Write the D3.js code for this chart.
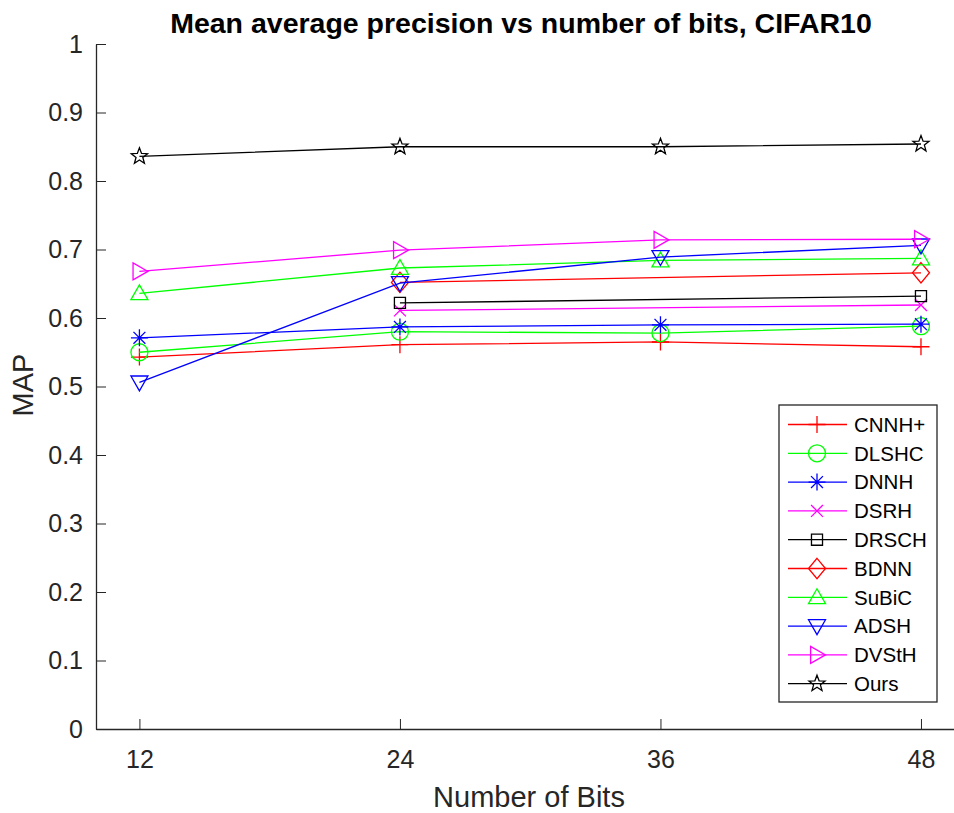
<!DOCTYPE html>
<meta charset="utf-8">
<style>
body { margin: 0; background: #fff; font-family: 'Liberation Sans', Arial, sans-serif; }
.axis path, .axis line { stroke: #262626; }
.axis text { fill: #262626; }
</style>
<body>
<script src="https://d3js.org/d3.v7.min.js"></script>
<script>
var width = 954, height = 813;

// data
var bits = [12, 24, 36, 48];
var yTicks = [0, 0.1, 0.2, 0.3, 0.4, 0.5, 0.6, 0.7, 0.8, 0.9, 1];
var names = ["CNNH+", "DLSHC", "DNNH", "DSRH", "DRSCH", "BDNN", "SuBiC", "ADSH", "DVStH", "Ours"];
var colors = ["#ff0000", "#00ff00", "#0000ff", "#ff00ff", "#000000", "#ff0000", "#00ff00", "#0000ff", "#ff00ff", "#000000"];
var markers = ["plus", "circle", "asterisk", "cross", "square", "diamond", "up", "down", "right", "star"];
var cnnh = [0.543, 0.561, 0.565, 0.558];
var dlshc = [0.550, 0.580, 0.578, 0.588];
var dnnh = [0.571, 0.587, 0.590, 0.591];
var dsrh = [null, 0.611, null, 0.619];
var drsch = [null, 0.622, null, 0.632];
var bdnn = [null, 0.652, null, 0.666];
var subic = [0.636, 0.673, 0.684, 0.687];
var adsh = [0.506, 0.651, 0.689, 0.706];
var dvsth = [0.668, 0.699, 0.714, 0.715];
var ours = [0.836, 0.850, 0.850, 0.854];
var series = [cnnh, dlshc, dnnh, dsrh, drsch, bdnn, subic, adsh, dvsth, ours];

var margin = {left: 96, top: 44, bottom: 84};
var x = d3.scaleLinear().domain([10, 50]).range([margin.left, margin.left + 40 * 21.71]);
var y = d3.scaleLinear().domain([0, 1]).range([height - margin.bottom, margin.top]);

var svg = d3.select("body").append("svg")
    .attr("width", width)
    .attr("height", height);

function markerPath(type, s) {
  var p = d3.path();
  var r = s / 2;
  if (type == "plus") {
    p.moveTo(-r, 0); p.lineTo(r, 0); p.moveTo(0, -r); p.lineTo(0, r);
  } else if (type == "circle") {
    p.moveTo(r, 0); p.arc(0, 0, r, 0, 2 * Math.PI);
  } else if (type == "asterisk") {
    p.moveTo(-r, 0); p.lineTo(r, 0); p.moveTo(0, -r); p.lineTo(0, r);
    var d = r * 0.7;
    p.moveTo(-d, -d); p.lineTo(d, d); p.moveTo(-d, d); p.lineTo(d, -d);
  } else if (type == "cross") {
    var c = r * 0.7;
    p.moveTo(-c, -c); p.lineTo(c, c); p.moveTo(-c, c); p.lineTo(c, -c);
  } else if (type == "square") {
    var q = r * 0.65;
    p.rect(-q, -q, 2 * q, 2 * q);
  } else if (type == "diamond") {
    var h = r * 1.2;
    p.moveTo(0, -h); p.lineTo(r, 0); p.lineTo(0, h); p.lineTo(-r, 0); p.closePath();
  } else if (type == "up") {
    p.moveTo(0, -r); p.lineTo(r, r * 0.75); p.lineTo(-r, r * 0.75); p.closePath();
  } else if (type == "down") {
    p.moveTo(0, r); p.lineTo(r, -r * 0.75); p.lineTo(-r, -r * 0.75); p.closePath();
  } else if (type == "right") {
    p.moveTo(r, 0); p.lineTo(-r * 0.75, r); p.lineTo(-r * 0.75, -r); p.closePath();
  } else if (type == "star") {
    var ro = r, ri = r * 0.42;
    for (var i = 0; i < 10; i++) {
      var a = -Math.PI / 2 + i * Math.PI / 5;
      var rr = i % 2 ? ri : ro;
      if (i == 0) p.moveTo(rr * Math.cos(a), rr * Math.sin(a));
      else p.lineTo(rr * Math.cos(a), rr * Math.sin(a));
    }
    p.closePath();
  }
  return p.toString();
}

// axes (MATLAB style, ticks pointing in, no box)
svg.append("g")
    .attr("class", "axis")
    .attr("transform", "translate(0," + y(0) + ")")
    .call(d3.axisBottom(x).tickValues(bits).tickSizeInner(-10).tickSizeOuter(0).tickPadding(21))
    .call(g => g.selectAll("text").attr("font-size", 25).attr("font-family", "'Liberation Sans', Arial, sans-serif"))
    .call(g => g.select(".domain").attr("stroke-width", 1.3));

svg.append("g")
    .attr("class", "axis")
    .attr("transform", "translate(" + margin.left + ",0)")
    .call(d3.axisLeft(y).tickValues(yTicks).tickFormat(d3.format("")).tickSizeInner(-10).tickSizeOuter(0).tickPadding(13))
    .call(g => g.selectAll("text").attr("font-size", 25).attr("font-family", "'Liberation Sans', Arial, sans-serif"))
    .call(g => g.select(".domain").attr("stroke-width", 1.3));

// lines and markers
var line = d3.line()
    .defined(d => d[1] != null)
    .x(d => x(d[0]))
    .y(d => y(d[1]));

series.forEach(function(vals, i) {
  var pts = bits.map((b, j) => [b, vals[j]]).filter(d => d[1] != null);
  svg.append("path")
      .datum(pts)
      .attr("fill", "none")
      .attr("stroke", colors[i])
      .attr("stroke-width", 1.3)
      .attr("d", line);
  svg.append("g").selectAll("path")
    .data(pts)
    .join("path")
      .attr("transform", d => "translate(" + x(d[0]) + "," + y(d[1]) + ")")
      .attr("d", markerPath(markers[i], 17))
      .attr("fill", "none")
      .attr("stroke", colors[i])
      .attr("stroke-width", 1.3);
});

// legend
var legend = svg.append("g").attr("transform", "translate(779,405)");
legend.append("rect")
    .attr("width", 158)
    .attr("height", 297)
    .attr("fill", "#fff")
    .attr("stroke", "#262626")
    .attr("stroke-width", 1.3);
names.forEach(function(n, i) {
  var g = legend.append("g").attr("transform", "translate(0," + (19.5 + i * 28.8) + ")");
  g.append("line")
      .attr("x1", 9).attr("x2", 68)
      .attr("stroke", colors[i])
      .attr("stroke-width", 1.3);
  g.append("path")
      .attr("transform", "translate(38,0)")
      .attr("d", markerPath(markers[i], 17))
      .attr("fill", "none")
      .attr("stroke", colors[i])
      .attr("stroke-width", 1.3);
  g.append("text")
      .attr("x", 75)
      .attr("dy", "0.36em")
      .attr("font-size", 20.5)
      .attr("fill", "#000")
      .text(n);
});

// titles
svg.append("text")
    .attr("x", 521)
    .attr("y", 33)
    .attr("text-anchor", "middle")
    .attr("font-size", 28.5)
    .attr("font-weight", "bold")
    .attr("fill", "#000")
    .text("Mean average precision vs number of bits, CIFAR10");

svg.append("text")
    .attr("x", 529)
    .attr("y", 807)
    .attr("text-anchor", "middle")
    .attr("font-size", 29)
    .attr("fill", "#262626")
    .text("Number of Bits");

svg.append("text")
    .attr("transform", "translate(33,385) rotate(-90)")
    .attr("text-anchor", "middle")
    .attr("font-size", 29)
    .attr("fill", "#262626")
    .text("MAP");
</script>
</body>
